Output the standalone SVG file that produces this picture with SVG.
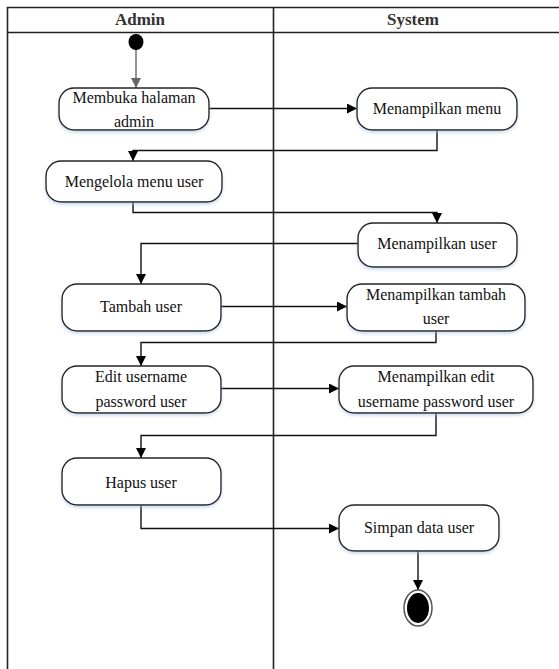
<svg xmlns="http://www.w3.org/2000/svg" width="559" height="669" viewBox="0 0 559 669">
<style>
.frame{stroke:#222;stroke-width:1.6;fill:none}
.node rect{fill:#fff;stroke:#222;stroke-width:1.4;filter:url(#sh)}
.node text, .hdr{font-family:"Liberation Serif","Times New Roman",serif;font-size:16px;fill:#111;text-anchor:middle}
.hdr{font-weight:bold;font-size:17px;fill:#333}
.conn path{fill:none;stroke:#111;stroke-width:1.4}
</style>
<defs>
<marker id="ah" viewBox="0 0 10 10" refX="10" refY="5" markerWidth="11" markerHeight="10" markerUnits="userSpaceOnUse" orient="auto"><path d="M0,0 L10,5 L0,10 z" fill="#000"/></marker>
<marker id="ahg" viewBox="0 0 10 10" refX="10" refY="5" markerWidth="11" markerHeight="10" markerUnits="userSpaceOnUse" orient="auto"><path d="M0,0 L10,5 L0,10 z" fill="#666"/></marker>
<filter id="sh" x="-10%" y="-10%" width="120%" height="140%"><feDropShadow dx="0" dy="2" stdDeviation="1.5" flood-color="#9db8e0" flood-opacity="0.5"/></filter>
</defs>
<g id="swimlanes">
<path class="frame" d="M559,7.5 H7.5 V669"/>
<path class="frame" d="M7.5,32.5 H559"/>
<path class="frame" d="M273.5,7.5 V669"/>
<text class="hdr" x="140" y="25">Admin</text>
<text class="hdr" x="413" y="25">System</text>
</g>
<g class="conn" id="connectors">
<path d="M136,49 V88" style="stroke:#666" marker-end="url(#ahg)"/>
<path d="M209,108.5 H357" marker-end="url(#ah)"/>
<path d="M437,130 V150.5 H133 V161" marker-end="url(#ah)"/>
<path d="M133,202 V212.5 H437 V223" marker-end="url(#ah)"/>
<path d="M358,243.5 H141 V284" marker-end="url(#ah)"/>
<path d="M221,306.5 H347" marker-end="url(#ah)"/>
<path d="M436,331 V342.5 H141 V366" marker-end="url(#ah)"/>
<path d="M221,388.5 H339" marker-end="url(#ah)"/>
<path d="M436,413 V435.5 H141 V458" marker-end="url(#ah)"/>
<path d="M141,505 V528.5 H339" marker-end="url(#ah)"/>
<path d="M418,551 V590" marker-end="url(#ah)"/>
</g>
<g id="start"><ellipse cx="136" cy="42" rx="7.5" ry="8" fill="#000"/></g>
<g id="n1" class="node"><rect x="59" y="88" width="150" height="42" rx="15"/><text x="134" y="103">Membuka halaman</text><text x="134" y="127">admin</text></g>
<g id="n2" class="node"><rect x="357" y="88" width="160" height="42" rx="15"/><text x="437" y="114">Menampilkan menu</text></g>
<g id="n3" class="node"><rect x="46" y="161" width="176" height="41" rx="15"/><text x="134" y="187">Mengelola menu user</text></g>
<g id="n4" class="node"><rect x="358" y="223" width="159" height="44" rx="15"/><text x="437" y="249">Menampilkan user</text></g>
<g id="n5" class="node"><rect x="62" y="284" width="159" height="47" rx="15"/><text x="141" y="312">Tambah user</text></g>
<g id="n6" class="node"><rect x="347" y="284" width="178" height="47" rx="15"/><text x="436" y="300">Menampilkan tambah</text><text x="436" y="324">user</text></g>
<g id="n7" class="node"><rect x="62" y="366" width="159" height="47" rx="15"/><text x="141" y="382">Edit username</text><text x="141" y="407">password user</text></g>
<g id="n8" class="node"><rect x="339" y="366" width="194" height="47" rx="15"/><text x="436" y="382">Menampilkan edit</text><text x="436" y="407">username password user</text></g>
<g id="n9" class="node"><rect x="62" y="458" width="159" height="47" rx="15"/><text x="141" y="488">Hapus user</text></g>
<g id="n10" class="node"><rect x="339" y="505" width="160" height="46" rx="15"/><text x="419" y="533">Simpan data user</text></g>
<g id="end"><ellipse cx="418" cy="608" rx="14" ry="18" fill="#fff" stroke="#555" stroke-width="1.5"/><ellipse cx="418" cy="608" rx="11" ry="15" fill="#000"/></g>
</svg>
